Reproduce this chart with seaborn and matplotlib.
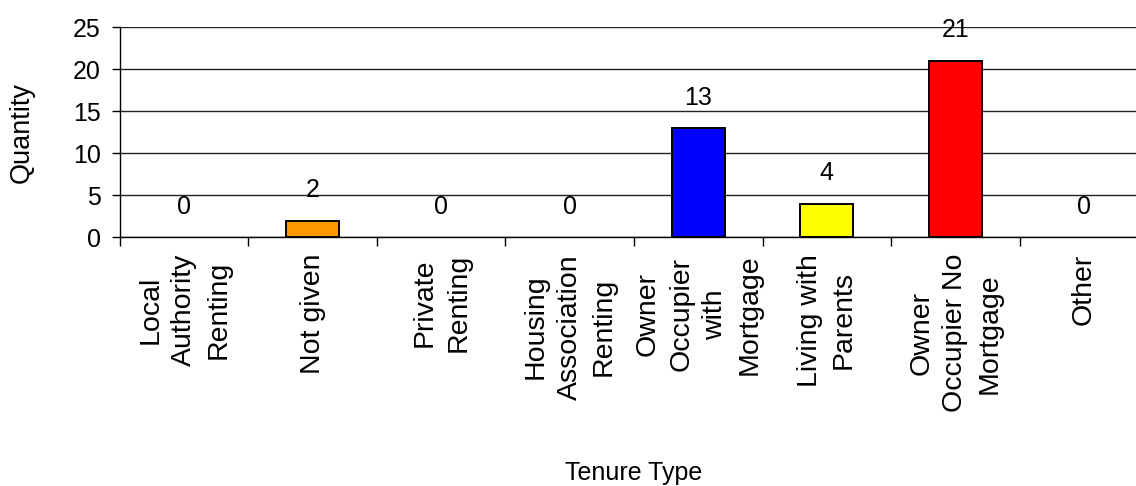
import matplotlib

matplotlib.use("Agg")
import matplotlib.pyplot as plt
import numpy as np
import pandas as pd
import seaborn as sns

# data
categories = [
    "Local\nAuthority\nRenting",
    "Not given",
    "Private\nRenting",
    "Housing\nAssociation\nRenting",
    "Owner\nOccupier\nwith\nMortgage",
    "Living with\nParents",
    "Owner\nOccupier No\nMortgage",
    "Other",
]
quantities = [0, 2, 0, 0, 13, 4, 21, 0]
bar_colors = ["#9999FF", "#FF9900", "#993366", "#FFFFCC",
              "#0000FF", "#FFFF00", "#FF0000", "#CCFFFF"]
y_ticks = [0, 5, 10, 15, 20, 25]

sns.set_style("white")
plt.rcParams["font.family"] = ["Liberation Sans", "DejaVu Sans"]
plt.rcParams.update({
    "text.color": "black",
    "axes.labelcolor": "black",
    "xtick.color": "black",
    "ytick.color": "black",
})

df = pd.DataFrame({"Tenure": categories, "Quantity": quantities})

fig = plt.figure(figsize=(11.36, 4.86), dpi=100)
ax = fig.add_axes([0.1056, 0.5117, 0.905, 0.432])

sns.barplot(
    data=df,
    x="Tenure",
    y="Quantity",
    hue="Tenure",
    palette=bar_colors,
    legend=False,
    width=0.41,
    edgecolor="black",
    linewidth=1.4,
    saturation=1,
    ax=ax,
)
# empty categories show no outline
for patch in ax.patches:
    if patch.get_height() == 0:
        patch.set_linewidth(0)

for i, q in enumerate(quantities):
    ax.annotate(str(q), (i, q), xytext=(0, 22), textcoords="offset points",
                ha="center", va="center", fontsize=18)

ax.set_xlim(-0.5, len(categories) - 0.5)
ax.set_ylim(0, 25)
ax.set_yticks(y_ticks)
ax.yaxis.grid(True, color="#222222", linewidth=1)
ax.set_axisbelow(True)

# category boundaries get the tick marks, labels sit in between
ax.set_xticks(np.arange(len(categories)))
ax.set_xticklabels(categories, rotation=90, ha="center", va="top",
                   multialignment="center", linespacing=1.4)
ax.set_xticks(np.arange(-0.5, len(categories)), minor=True)
ax.tick_params(axis="x", which="major", length=0, pad=12, labelsize=20.5)
ax.tick_params(axis="x", which="minor", length=6.5, width=1, color="black",
               direction="out", bottom=True)
ax.tick_params(axis="y", length=6, width=1, color="black", direction="out",
               left=True, pad=8, labelsize=18)

for side in ["top", "right"]:
    ax.spines[side].set_visible(False)
for side in ["left", "bottom"]:
    ax.spines[side].set_color("black")
    ax.spines[side].set_linewidth(1)

ax.set_ylabel("Quantity", fontsize=19.5)
ax.yaxis.set_label_coords(-0.083, 0.5)
ax.set_xlabel("Tenure Type", fontsize=18)
ax.xaxis.set_label_coords(0.5, -1.065)

fig.savefig("out.png", dpi=100)
